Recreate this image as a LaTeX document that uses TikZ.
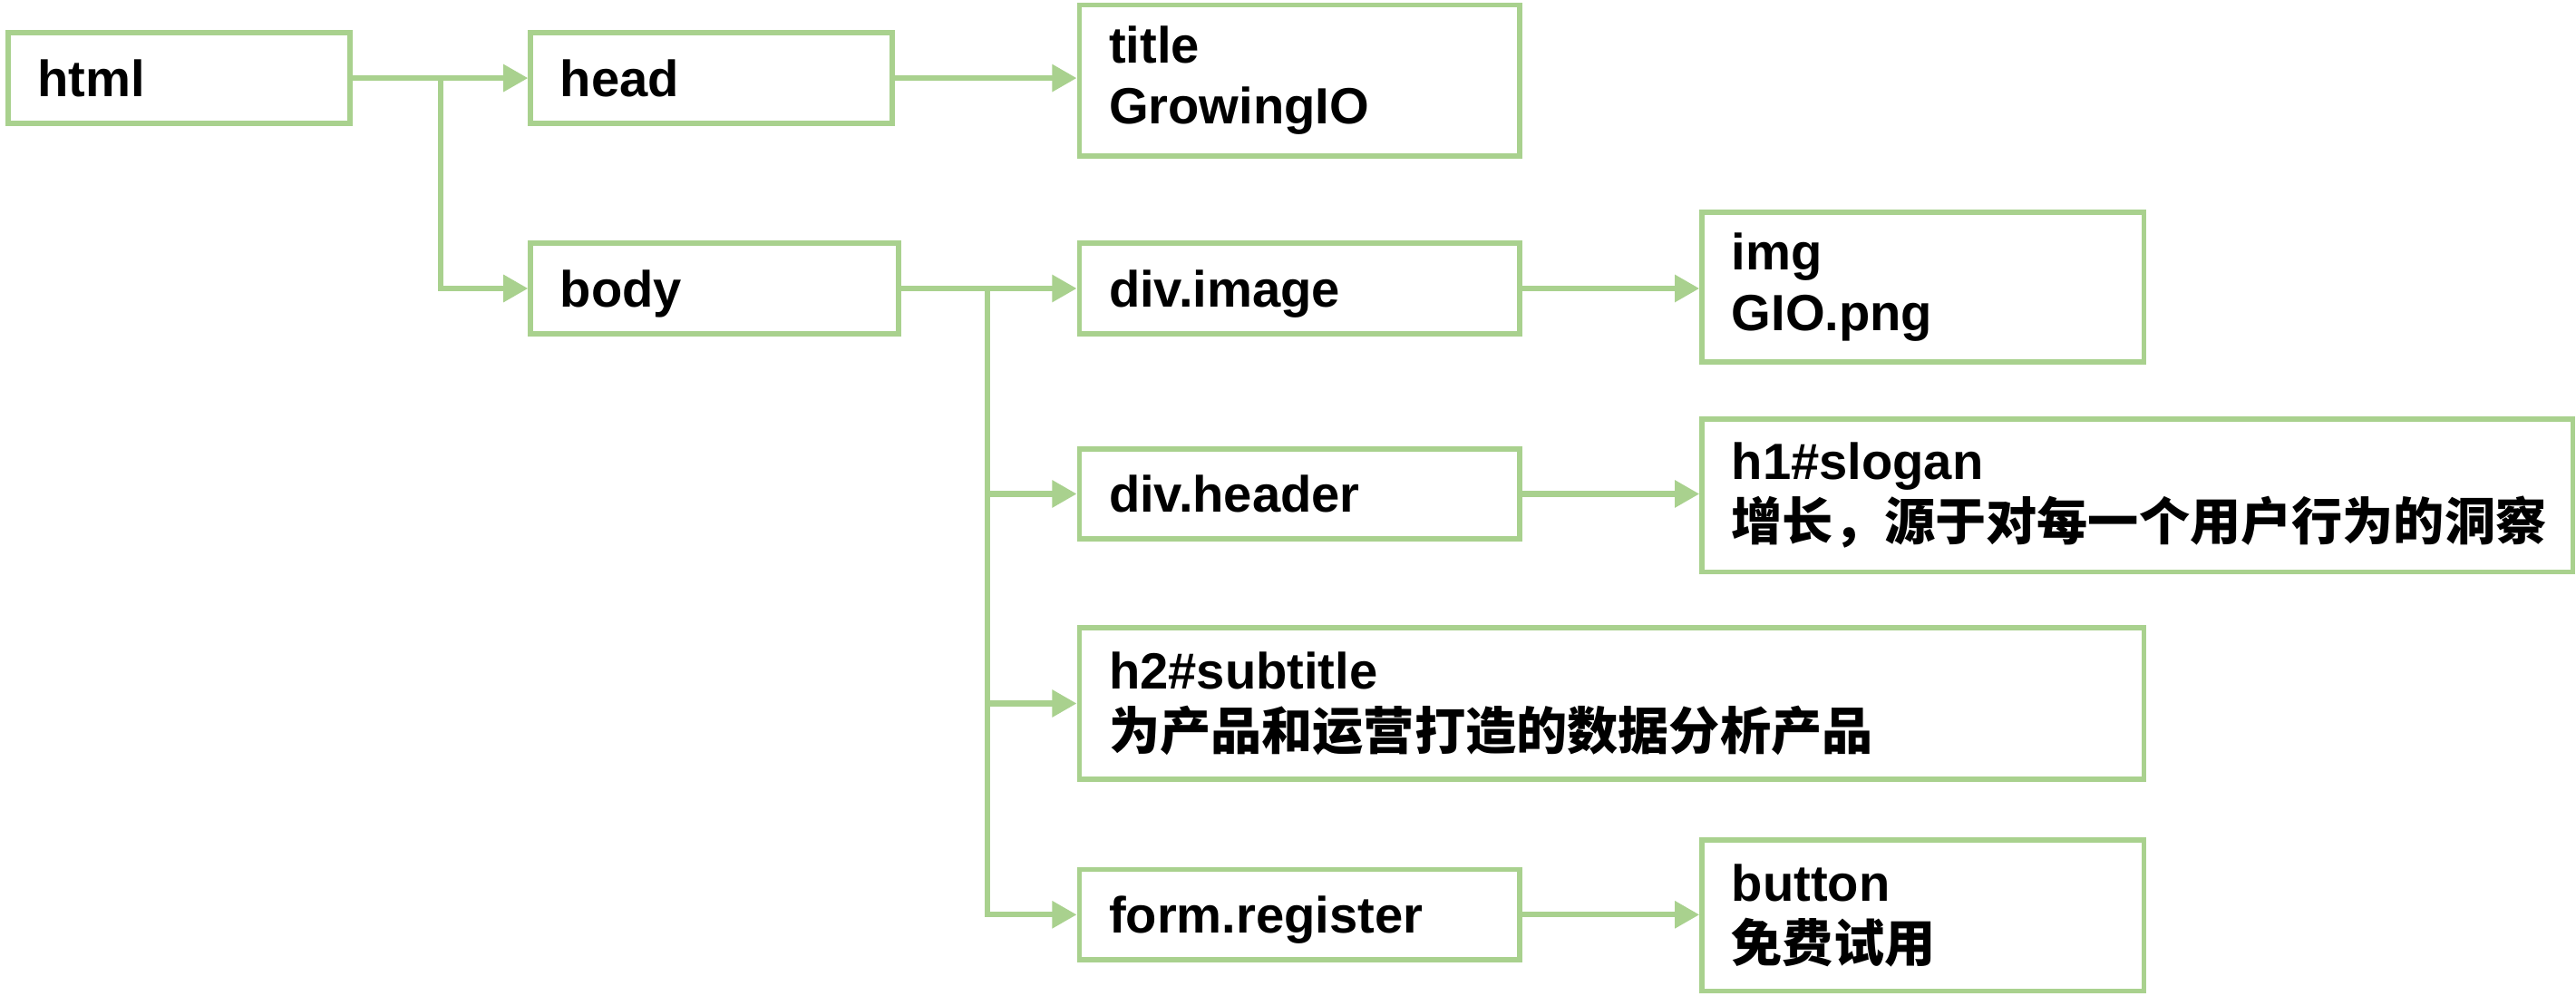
\documentclass[tikz,border=0pt]{standalone}
\usepackage{fontspec}
\setmainfont{Liberation Sans}
\newfontfamily\cjk{Noto Sans CJK SC}
\usetikzlibrary{arrows.meta}
\definecolor{leaf}{HTML}{A9D18E}
\tikzset{
  box/.style={draw=leaf, line width=1.6pt, fill=white, inner xsep=9pt, inner ysep=0pt,
    align=left, font=\fontsize{15.5}{18.5}\selectfont\bfseries},
  tag/.style={box, minimum height=27.5pt, text depth=0pt},
  link/.style={draw=leaf, line width=1.7pt, -{Triangle[length=7.5pt,width=8pt]}}
}
\begin{document}
\begin{tikzpicture}[x=0.5pt,y=-0.5pt]
        \useasboundingbox (0,0) rectangle (1568,612);

        \node[tag, text width=86pt] (html) at (109,47.5) {html};
        \node[tag, text width=92pt] (head) at (433,47.5) {head};
        \node[tag, text width=94pt] (body) at (435,175.5) {body};
        \node[box, text width=116pt, minimum height=46pt] (title) at (791,49) {title\\GrowingIO};

        \node[tag, text width=116pt] (divimage) at (791,175.5) {div.image};
        \node[tag, text width=116pt] (divheader) at (791,300.5) {div.header};
        \node[box, text width=306pt, minimum height=46pt] (subtitle) at (981,428) {h2\#subtitle\\{\cjk 为产品和运营打造的数据分析产品}};
        \node[tag, text width=116pt] (form) at (791,556.5) {form.register};

        \node[box, text width=116.5pt, minimum height=45.5pt] (img) at (1170.5,174.5) {img\\GIO.png};
        \node[box, text width=247pt, minimum height=46.5pt] (slogan) at (1301,301.5) {h1\#slogan\\{\cjk 增长，源于对每一个用户行为的洞察}};
        \node[box, text width=116.5pt, minimum height=46pt] (button) at (1170.5,557) {button\\{\cjk 免费试用}};

        % branch points
        \coordinate (hsplit) at (268,47.5);
        \coordinate (bsplit) at (601,175.5);

        \draw[link] (html.east) -- (head.west);
        \draw[link] (hsplit) |- (body.west);
        \draw[link] (head.east) -- (head.east -| title.west);

        \draw[link] (body.east) -- (divimage.west);
        \foreach \n in {divheader,subtitle,form}
            \draw[link] (bsplit) |- (\n.west);

        \draw[link] (divimage.east) -- (divimage.east -| img.west);
        \draw[link] (divheader.east) -- (divheader.east -| slogan.west);
        \draw[link] (form.east) -- (form.east -| button.west);
    \end{tikzpicture}
\end{document}
